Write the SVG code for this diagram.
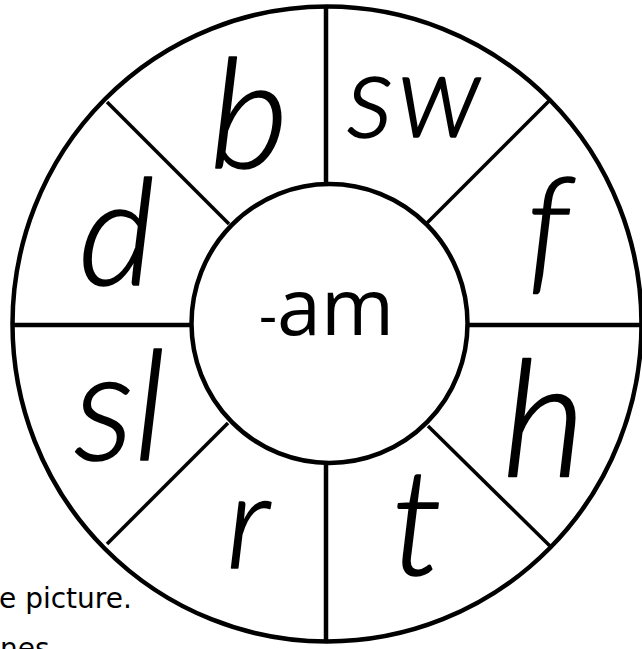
<svg xmlns="http://www.w3.org/2000/svg" width="642" height="649" viewBox="0 0 642 649">
<style>
.ln{stroke:#000;stroke-width:4.5;fill:none;stroke-linecap:butt}
.dg{stroke:#000;stroke-width:3.5;fill:none}
.hw{font-family:Lato,"DejaVu Sans",sans-serif;font-style:italic;font-weight:300;fill:#000;stroke:#000;stroke-width:1.6;stroke-linejoin:round;text-anchor:middle}
.ct{font-family:"Open Sans","DejaVu Sans",sans-serif;fill:#000}
.note{font-family:"DejaVu Sans",sans-serif;font-size:28px;fill:#000}
</style>
<rect width="642" height="649" fill="#fff"/>
<text class="note" x="-1" y="608">e picture.</text>
<text class="note" x="0" y="658">nes</text>
<g id="connectors">
<line class="ln" x1="326" y1="7" x2="326" y2="184"/>
<line class="ln" x1="326" y1="463" x2="326" y2="642"/>
<line class="ln" x1="12" y1="325" x2="191" y2="325"/>
<line class="ln" x1="467" y1="325" x2="642" y2="325"/>
<line class="dg" x1="107" y1="102" x2="229" y2="224"/>
<line class="dg" x1="550" y1="100" x2="427" y2="223"/>
<line class="dg" x1="107" y1="544" x2="228" y2="423"/>
<line class="dg" x1="552" y1="548" x2="428" y2="426"/>
</g>
<g id="outer"><ellipse class="ln" cx="327" cy="324" rx="314.5" ry="317.5"/></g>
<g id="center">
<ellipse class="ln" cx="329.5" cy="323.5" rx="138" ry="139.5" fill="#fff"/>
<text class="ct" x="259" y="335"><tspan font-size="56">-</tspan><tspan font-size="79">am</tspan></text>
</g>
<g id="seg-b"><text class="hw" x="249" y="168" font-size="152">b</text></g>
<g id="seg-sw"><text class="hw" x="416" y="137" font-size="118" letter-spacing="4">sw</text></g>
<g id="seg-f"><text class="hw" x="548" y="276" font-size="138">f</text></g>
<g id="seg-h"><text class="hw" x="544" y="477" font-size="162">h</text></g>
<g id="seg-t"><text class="hw" x="417" y="575" font-size="148">t</text></g>
<g id="seg-r"><text class="hw" x="248" y="568" font-size="132">r</text></g>
<g id="seg-sl"><text class="hw" x="120" y="460" font-size="152">sl</text></g>
<g id="seg-d"><text class="hw" x="117" y="285" font-size="148">d</text></g>
</svg>
